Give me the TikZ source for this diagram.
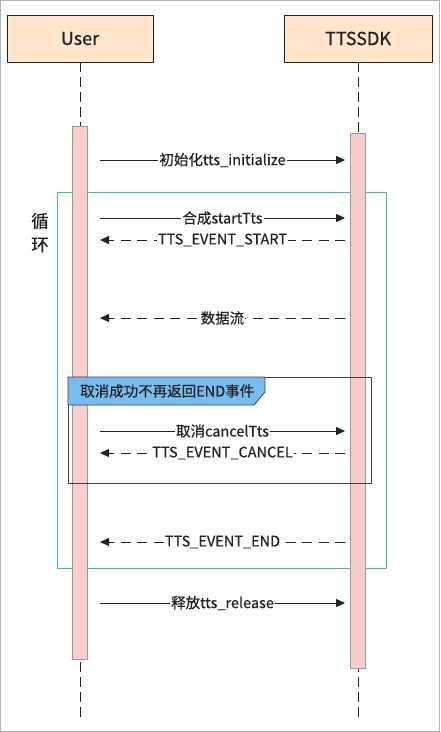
\documentclass[tikz,border=0pt]{standalone}
\usepackage{fontspec}
\setmainfont{Noto Sans CJK SC}[FakeBold=0.5]
\usetikzlibrary{arrows.meta,positioning}
\definecolor{headfill}{HTML}{FFE6CC}
\definecolor{barfill}{HTML}{F8CECC}
\definecolor{tabfill}{HTML}{78BDF0}
\definecolor{loopgreen}{HTML}{3CC47C}
\definecolor{ink}{HTML}{222222}

\begin{document}
\begin{tikzpicture}[x=1pt,y=-1pt,line join=round,
  head/.style={draw=ink,fill=headfill,line width=0.8pt,minimum height=47pt,
    font=\fontsize{18}{21}\selectfont,text=ink},
  lifeline/.style={ink,line width=0.8pt,dash pattern=on 10pt off 5pt},
  bar/.style={draw=black!40,fill=barfill,line width=0.8pt,minimum width=14.5pt,inner sep=0pt},
  msg/.style={ink,line width=0.8pt,-{Triangle[length=9pt,width=8pt]}},
  ret/.style={msg,dash pattern=on 10pt off 6.5pt},
  lbl/.style={fill=white,inner sep=1pt,font=\fontsize{14.5}{17}\selectfont,text=ink},
  frameline/.style={draw=black!75,line width=0.8pt}]
\useasboundingbox (0,0) rectangle (440,732);
\draw[black!30,line width=1pt] (0.5,0.5) rectangle (439.5,731.5);

% participants
\node[head,minimum width=146pt] (user) at (80,38.5) {User};
\node[head,minimum width=148pt] (sdk) at (358,38.5) {TTSSDK};
\coordinate (userend) at (80,720);
\coordinate (sdkend) at (358,720);
\draw[lifeline] (user.south) -- (userend);
\draw[lifeline] (sdk.south) -- (sdkend);

% loop frame
\draw[loopgreen,line width=1pt] (57,192) rectangle (386,568);
\node[font=\fontsize{17.5}{19}\selectfont,text=ink] (looptxt1) at (40,221) {循};
\node[font=\fontsize{17.5}{19}\selectfont,text=ink] (looptxt2) at (40,245) {环};

% activations
\node[bar,minimum height=533pt] (userbar) at (80,392.5) {};
\node[bar,minimum height=535pt] (sdkbar) at (358,400.5) {};

% opt frame
\draw[frameline] (68,377) rectangle (371,483);
\draw[frameline,fill=tabfill] (68,377) -- (265,377) -- (265,392) -- (254,405) -- (68,405) -- cycle;
\node[anchor=west,inner sep=0pt,font=\fontsize{14.5}{17}\selectfont,text=ink] (opttxt) at (80,391) {取消成功不再返回END事件};

% messages
\coordinate (init-u) at (100,160);   \coordinate (init-s) at (345,160);
\coordinate (start-u) at (100,218);  \coordinate (start-s) at (345,218);
\coordinate (evstart-u) at (100,240); \coordinate (evstart-s) at (345,240);
\coordinate (data-u) at (100,318);   \coordinate (data-s) at (345,318);
\coordinate (cancel-u) at (100,431); \coordinate (cancel-s) at (345,431);
\coordinate (evcancel-u) at (100,453); \coordinate (evcancel-s) at (345,453);
\coordinate (evend-u) at (100,542);  \coordinate (evend-s) at (345,542);
\coordinate (rel-u) at (100,603);    \coordinate (rel-s) at (345,603);

\draw[msg] (init-u) -- node[lbl] {初始化tts\_initialize} (init-s);
\draw[msg] (start-u) -- node[lbl] {合成startTts} (start-s);
\draw[ret] (evstart-s) -- node[lbl] {TTS\_EVENT\_START} (evstart-u);
\draw[ret] (data-s) -- node[lbl] {数据流} (data-u);
\draw[msg] (cancel-u) -- node[lbl] {取消cancelTts} (cancel-s);
\draw[ret] (evcancel-s) -- node[lbl] {TTS\_EVENT\_CANCEL} (evcancel-u);
\draw[ret] (evend-s) -- node[lbl] {TTS\_EVENT\_END} (evend-u);
\draw[msg] (rel-u) -- node[lbl] {释放tts\_release} (rel-s);
\end{tikzpicture}
\end{document}
